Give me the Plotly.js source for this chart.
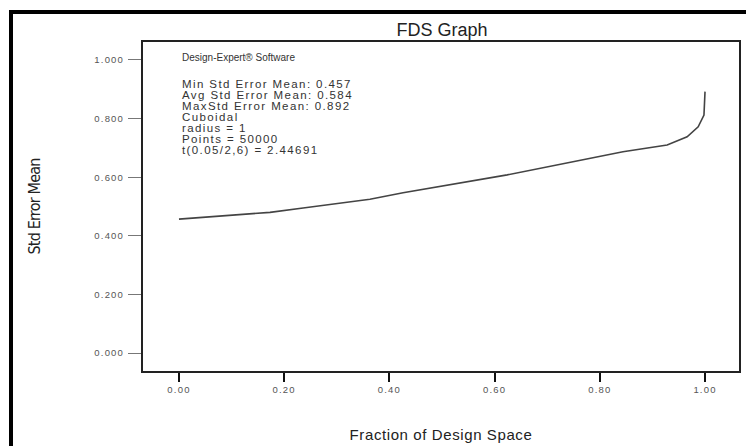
<!DOCTYPE html>
<html>
<head>
<meta charset="utf-8">
<script src="https://cdn.plot.ly/plotly-3.0.1.min.js"></script>
<style>
  html, body { margin: 0; padding: 0; background: #fff; }
  #chart { width: 746px; height: 446px; }
  .annotation .annotation-text { letter-spacing: 1.4px; }
  .annotation[data-index="0"] .annotation-text { letter-spacing: 0; }
  .xtick text, .ytick text { letter-spacing: 1.2px; }
  .g-xtitle text { letter-spacing: 0.6px; }
  .g-ytitle text { letter-spacing: -0.8px; }
</style>
</head>
<body>
<div id="chart"></div>
<script>
// Fraction of design space vs. standard error of the mean
const frac   = [0.000, 0.097, 0.173, 0.236, 0.312, 0.363, 0.426, 0.511, 0.624, 0.749, 0.844, 0.928, 0.966, 0.987, 0.994, 0.998, 1.000];
const stdErr = [0.457, 0.471, 0.480, 0.495, 0.513, 0.525, 0.547, 0.573, 0.608, 0.653, 0.687, 0.710, 0.738, 0.772, 0.798, 0.812, 0.892];

const xTicks = [0, 0.2, 0.4, 0.6, 0.8, 1.0];
const yTicks = [0, 0.2, 0.4, 0.6, 0.8, 1.0];

const infoLines = [
  "Min Std Error Mean: 0.457",
  "Avg Std Error Mean: 0.584",
  "MaxStd Error Mean: 0.892",
  "Cuboidal",
  "radius = 1",
  "Points = 50000",
  "t(0.05/2,6) = 2.44691"
];
const headerLine = "Design-Expert\u00ae Software";

const W = 746, H = 446;
const M = { l: 143, r: 7, t: 42, b: 75 };
const plotW = W - M.l - M.r, plotH = H - M.t - M.b;
const px2paperX = px => (px - M.l) / plotW;
const px2paperY = py => (H - M.b - py) / plotH;

const annotations = [];
annotations.push({
  xref: "paper", yref: "paper", x: px2paperX(180), y: px2paperY(57),
  xanchor: "left", yanchor: "middle", align: "left", showarrow: false, text: headerLine,
  font: { family: "Liberation Sans, Arial, sans-serif", size: 10, color: "#333" }
});
infoLines.forEach((t, i) => {
  annotations.push({
    xref: "paper", yref: "paper", x: px2paperX(180), y: px2paperY(84 + i * 11),
    xanchor: "left", yanchor: "middle", align: "left", showarrow: false, text: t,
    font: { family: "Liberation Sans, Arial, sans-serif", size: 11.5, color: "#333" }
  });
});

// page frame: thick black rule along the top and left edges
const shapes = [
  { type: "line", xref: "paper", yref: "paper", layer: "above",
    x0: px2paperX(9), x1: px2paperX(W + 2), y0: px2paperY(12), y1: px2paperY(12),
    line: { color: "#000", width: 4 } },
  { type: "line", xref: "paper", yref: "paper", layer: "above",
    x0: px2paperX(11), x1: px2paperX(11), y0: px2paperY(10), y1: px2paperY(H + 2),
    line: { color: "#000", width: 4 } }
];

const trace = {
  x: frac, y: stdErr, type: "scatter", mode: "lines",
  line: { color: "#444", width: 1.6 }, hoverinfo: "skip"
};

const layout = {
  width: W, height: H,
  margin: M,
  paper_bgcolor: "#fff", plot_bgcolor: "#fff",
  showlegend: false,
  title: {
    text: "FDS Graph", x: 442 / W, xanchor: "center",
    y: 1 - 30 / H, yanchor: "middle",
    font: { family: "Liberation Sans, Arial, sans-serif", size: 18, color: "#222" }
  },
  xaxis: {
    range: [-0.0684, 1.0646],
    tickvals: xTicks, tickformat: ".2f",
    ticks: "outside", ticklen: 9, tickwidth: 2, tickcolor: "#111",
    showgrid: false, zeroline: false,
    showline: true, mirror: true, linecolor: "#222", linewidth: 2,
    tickfont: { family: "Liberation Sans, Arial, sans-serif", size: 9.5, color: "#555" },
    title: { text: "Fraction of Design Space", standoff: 35,
      font: { family: "Liberation Sans, Arial, sans-serif", size: 15, color: "#222" } }
  },
  yaxis: {
    range: [-0.0614, 1.0614],
    tickvals: yTicks, tickformat: ".3f",
    ticks: "outside", ticklen: 13, tickwidth: 1, tickcolor: "#777",
    ticklabelstandoff: 2,
    showgrid: false, zeroline: false,
    showline: true, mirror: true, linecolor: "#222", linewidth: 2,
    tickfont: { family: "Liberation Sans, Arial, sans-serif", size: 9.5, color: "#555" },
    title: { text: "Std Error Mean", standoff: 50,
      font: { family: "Liberation Sans Narrow, DejaVu Sans Condensed, Arial, sans-serif", size: 16, color: "#222" } }
  },
  annotations: annotations,
  shapes: shapes
};

Plotly.newPlot("chart", [trace], layout, { staticPlot: true, displayModeBar: false });
</script>
</body>
</html>
